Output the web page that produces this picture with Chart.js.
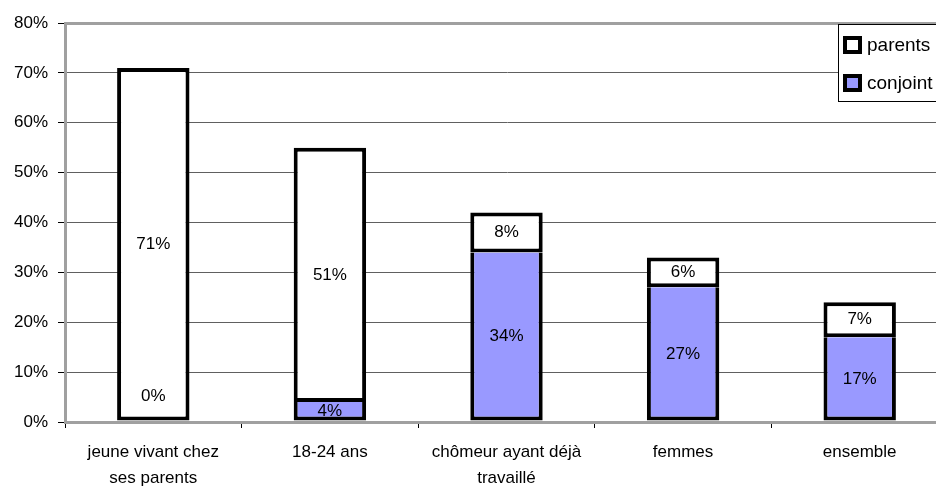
<!DOCTYPE html>
<html>
<head>
<meta charset="utf-8">
<script src="https://cdn.jsdelivr.net/npm/chart.js@4"></script>
<style>
  html, body { margin: 0; padding: 0; background: #fff; overflow: hidden; }
  #wrap { width: 960px; height: 492px; }
</style>
</head>
<body>
<div id="wrap"><canvas id="barChart" width="960" height="492"></canvas></div>
<script>
// data
const categories = [
    ['jeune vivant chez', 'ses parents'],
    '18-24 ans',
    ['chômeur ayant déjà', 'travaillé'],
    'femmes',
    'ensemble'
];
const conjoint = [0, 4, 34, 27, 17];
const parents = [71, 51, 8, 6, 7];
const seriesNames = ['parents', 'conjoint'];

const FONT = 'Liberation Sans, Arial, sans-serif';
const BLUE = '#9999ff';
const GRAY = '#a0a0a0';

// value labels in the middle of each segment
const valueLabels = {
    id: 'valueLabels',
    afterDatasetsDraw(chart) {
        const ctx = chart.ctx;
        ctx.save();
        ctx.font = '17px ' + FONT;
        ctx.fillStyle = '#000';
        ctx.textAlign = 'center';
        ctx.textBaseline = 'middle';
        chart.data.datasets.forEach((ds, i) => {
            chart.getDatasetMeta(i).data.forEach((bar, j) => {
                const v = ds.data[j];
                let y = (bar.y + bar.base) / 2;
                if (v === 0) y = bar.base - 26;
                ctx.fillText(v + '%', bar.x, y);
            });
        });
        ctx.restore();
    }
};

// legend box, top right
const boxLegend = {
    id: 'boxLegend',
    afterDraw(chart) {
        const ctx = chart.ctx;
        const x = 838, y = 24;
        ctx.save();
        ctx.fillStyle = '#fff';
        ctx.fillRect(x, y, 200, 77);
        ctx.strokeStyle = '#000';
        ctx.lineWidth = 1;
        ctx.strokeRect(x + 0.5, y + 0.5, 200, 77);
        const fills = ['#fff', BLUE];
        ctx.font = '19px ' + FONT;
        ctx.textBaseline = 'middle';
        seriesNames.forEach((name, i) => {
            const cy = y + 21 + i * 38;
            ctx.fillStyle = '#000';
            ctx.fillRect(x + 5, cy - 9, 19, 18);
            ctx.fillStyle = fills[i];
            ctx.fillRect(x + 9, cy - 5, 11, 10);
            ctx.fillStyle = '#000';
            ctx.fillText(name, x + 29, cy + 1);
        });
        ctx.restore();
    }
};

const ctx1 = document.getElementById('barChart').getContext('2d');
new Chart(ctx1, {
    type: 'bar',
    data: {
        labels: categories,
        datasets: [
            {
                label: 'conjoint',
                data: conjoint,
                backgroundColor: BLUE,
                borderColor: '#000',
                borderWidth: {top: 0, left: 4, right: 4, bottom: 4},
                borderSkipped: false
            },
            {
                label: 'parents',
                data: parents,
                backgroundColor: '#fff',
                borderColor: '#000',
                borderWidth: 4,
                borderSkipped: false
            }
        ]
    },
    options: {
        responsive: false,
        animation: false,
        layout: { padding: { top: 23, right: 12, left: 0, bottom: 0 } },
        datasets: { bar: { barPercentage: 0.41, categoryPercentage: 1 } },
        plugins: { legend: { display: false }, tooltip: { enabled: false } },
        scales: {
            x: {
                stacked: true,
                afterFit(s) { s.height = 70; },
                border: { color: GRAY, width: 3 },
                grid: { drawOnChartArea: false, color: '#000', tickLength: 6, offset: true },
                ticks: { color: '#000', font: { family: FONT, size: 17, lineHeight: 1.53 }, padding: 11, maxRotation: 0 }
            },
            y: {
                stacked: true,
                min: 0,
                max: 80,
                afterFit(s) { s.width = 65; },
                border: { color: GRAY, width: 3 },
                grid: {
                    color: c => (c.tick && (c.tick.value === 80 || c.tick.value === 0)) ? GRAY : '#606060',
                    lineWidth: c => (c.tick && (c.tick.value === 80 || c.tick.value === 0)) ? 3 : 1,
                    tickColor: '#000',
                    tickWidth: 1,
                    tickLength: 7
                },
                ticks: {
                    stepSize: 10,
                    color: '#000',
                    padding: 10,
                    font: { family: FONT, size: 17 },
                    callback: v => v + '%'
                }
            }
        }
    },
    plugins: [valueLabels, boxLegend]
});
</script>
</body>
</html>
